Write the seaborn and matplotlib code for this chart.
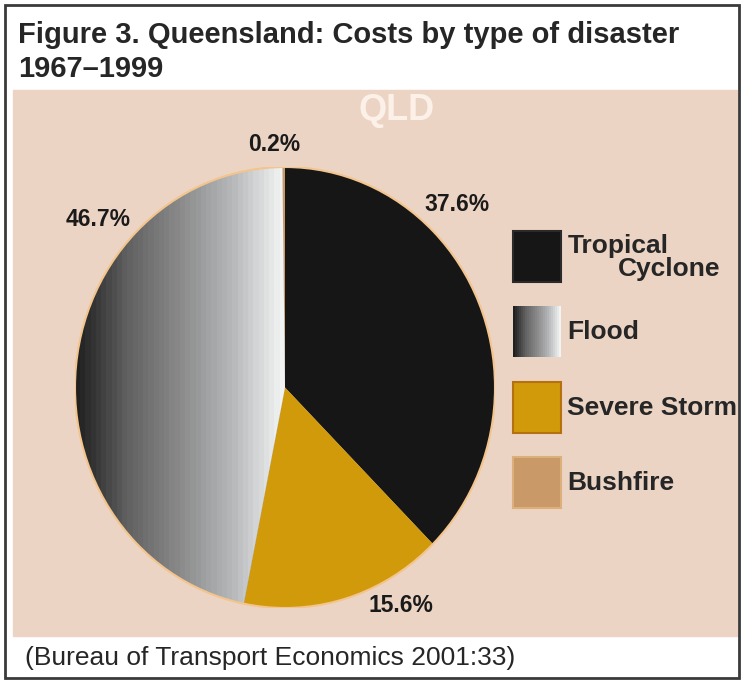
import numpy as np
import matplotlib.pyplot as plt
import seaborn as sns
from matplotlib.colors import ListedColormap
from matplotlib.patches import Rectangle, Circle

# data
disasters = ["Tropical Cyclone", "Severe Storm", "Flood", "Bushfire"]
shares = [37.6, 15.6, 46.7, 0.2]
share_labels = ["37.6%", "15.6%", "46.7%", "0.2%"]
slice_colors = ["#161616", "#d09a0b", "#888888", "#c99a68"]
legend_order = ["Tropical Cyclone", "Flood", "Severe Storm", "Bushfire"]
# where the percentage labels sit, in pie units (radius = 1)
label_pos = [(0.82, 0.83), (0.55, -0.99), (-0.89, 0.76), (-0.05, 1.10)]
flood_stops = ["#202020", "#626262", "#8a8a8a", "#b4b6b8", "#f2f3f3"]

sns.set_style("white")
plt.rcParams['font.family'] = ['Liberation Sans', 'DejaVu Sans']

W, H = 741, 680


def fx(x):
    return x / W


def fy(y):
    return 1 - y / H


fig = plt.figure(figsize=(W / 100, H / 100), dpi=100, facecolor='white')

# beige panel + outer frame
fig.patches.append(Rectangle((fx(13), fy(636)), (737 - 13) / W, (636 - 90) / H,
                             transform=fig.transFigure, color='#ecd4c4', zorder=-2))
fig.patches.append(Rectangle((fx(5), fy(678)), (739 - 5) / W, (678 - 5) / H,
                             transform=fig.transFigure, fill=False,
                             edgecolor='#3a3a3a', lw=2, zorder=5))

# pie
ax = fig.add_axes([fx(75), fy(608), 420 / W, 441 / H])
wedges, _ = ax.pie(shares, colors=slice_colors, startangle=90, counterclock=False,
                   wedgeprops=dict(linewidth=0))
ax.add_patch(Circle((0, 0), 1, fill=False, edgecolor='#f3c48c', lw=1.5, zorder=4))

flood_cmap = ListedColormap(sns.blend_palette(flood_stops, n_colors=40))
flood = wedges[disasters.index("Flood")]
img = ax.imshow(np.linspace(0, 1, 40)[None, :], cmap=flood_cmap, extent=(-1, 0, -1, 1),
                aspect='auto', interpolation='nearest', zorder=3)
img.set_clip_path(flood)

ax.set_aspect('auto')
ax.set_xlim(-1, 1)
ax.set_ylim(-1, 1)
ax.axis('off')

for lab, (x, y) in zip(share_labels, label_pos):
    ax.text(x, y, lab, ha='center', va='center', fontsize=16.5, fontweight='bold',
            color='#1a1a1a')

# legend
legend_tops = [231, 306, 382, 457]
box_edges = {"Tropical Cyclone": '#2a2a2a', "Flood": 'none',
             "Severe Storm": '#b5700f', "Bushfire": '#dcb07a'}
for name, top in zip(legend_order, legend_tops):
    if name == "Flood":
        lax = fig.add_axes([fx(513), fy(top + 51), 48 / W, 51 / H])
        lax.imshow(np.linspace(0, 1, 24)[None, :],
                   cmap=ListedColormap(sns.blend_palette(flood_stops, n_colors=24)),
                   aspect='auto', interpolation='nearest')
        lax.axis('off')
    else:
        fig.patches.append(Rectangle((fx(513), fy(top + 51)), 48 / W, 51 / H,
                                     transform=fig.transFigure,
                                     facecolor=slice_colors[disasters.index(name)],
                                     edgecolor=box_edges[name], lw=1.5))

    if name == "Tropical Cyclone":
        first, second = name.split()
        fig.text(fx(568), fy(top + 22), first, fontsize=19, fontweight='bold', va='baseline')
        fig.text(fx(720), fy(top + 45), second, fontsize=19, fontweight='bold',
                 va='baseline', ha='right')
    else:
        fig.text(fx(567), fy(top + 26), name, fontsize=19, fontweight='bold', va='center')

# texts
fig.text(fx(397), fy(110), "QLD", fontsize=26, fontweight='bold', color='#fcf1e8',
         ha='center', va='center', family=['Liberation Sans Narrow', 'Liberation Sans'])
fig.text(fx(18), fy(43), "Figure 3. Queensland: Costs by type of disaster",
         fontsize=21, fontweight='bold', va='baseline')
fig.text(fx(18), fy(77), "1967\u20131999", fontsize=21, fontweight='bold', va='baseline')
fig.text(fx(25), fy(665), "(Bureau of Transport Economics 2001:33)", fontsize=19,
         va='baseline')

fig.savefig('out.png', dpi=100, facecolor='white')
